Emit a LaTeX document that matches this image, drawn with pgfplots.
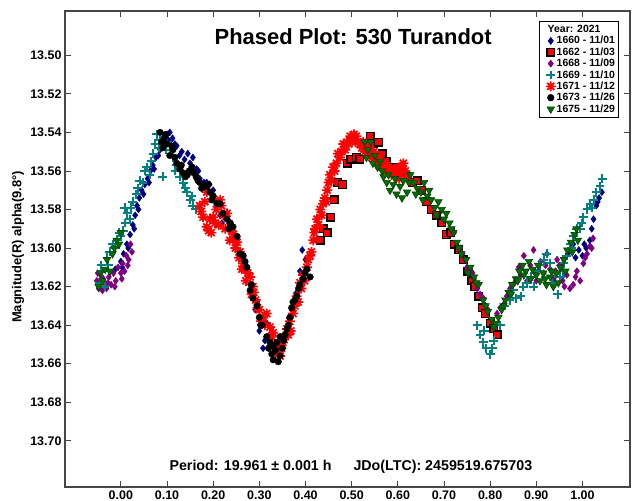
\documentclass[border=0pt]{standalone}
\usepackage{pgfplots}
\pgfplotsset{compat=1.18}
\usepackage{fontspec}
\setmainfont{Liberation Sans}
\definecolor{cnavy}{RGB}{0,0,128}
\definecolor{cpurple}{RGB}{128,0,128}
\definecolor{cteal}{RGB}{0,128,128}
\definecolor{cgreen}{RGB}{0,110,0}
\definecolor{cframe}{RGB}{70,70,70}
\pgfdeclareplotmark{burst}{%
 \pgfpathmoveto{\pgfqpoint{-\pgfplotmarksize}{0pt}}\pgfpathlineto{\pgfqpoint{\pgfplotmarksize}{0pt}}%
 \pgfpathmoveto{\pgfqpoint{0pt}{-\pgfplotmarksize}}\pgfpathlineto{\pgfqpoint{0pt}{\pgfplotmarksize}}%
 \pgfpathmoveto{\pgfqpoint{-0.707\pgfplotmarksize}{-0.707\pgfplotmarksize}}\pgfpathlineto{\pgfqpoint{0.707\pgfplotmarksize}{0.707\pgfplotmarksize}}%
 \pgfpathmoveto{\pgfqpoint{-0.707\pgfplotmarksize}{0.707\pgfplotmarksize}}\pgfpathlineto{\pgfqpoint{0.707\pgfplotmarksize}{-0.707\pgfplotmarksize}}%
 \pgfusepathqstroke}
\begin{document}
\begin{tikzpicture}
\useasboundingbox (0,0) rectangle (634bp,501bp);
\begin{axis}[
  at={(65bp,14bp)}, anchor=south west, scale only axis,
  width=565bp, height=476bp,
  xmin=-0.121, xmax=1.103, ymin=13.477, ymax=13.724, y dir=reverse,
  xtick={0,0.1,0.2,0.3,0.4,0.5,0.6,0.7,0.8,0.9,1.0},
  ytick={13.50,13.52,13.54,13.56,13.58,13.60,13.62,13.64,13.66,13.68,13.70},
  /pgf/number format/assume math mode=true,
  xticklabel style={/pgf/number format/.cd, fixed, fixed zerofill, precision=2},
  yticklabel style={/pgf/number format/.cd, fixed, fixed zerofill, precision=2},
  ticklabel style={font=\bfseries\fontsize{12.5}{14}\selectfont},
  scaled y ticks=false,
  axis line style={cframe, line width=1.2pt},
  major tick length=6bp,
  every tick/.style={cframe, line width=0.8pt},
  xtick pos=both, ytick pos=both,
  legend cell align=left,
  legend style={at={(0.980,0.978)}, anchor=north east, draw=black, line width=0.6pt,
    font=\bfseries\fontsize{10.5}{11}\selectfont, row sep=0.3pt,
    nodes={inner sep=1pt}, inner sep=2.5pt},
  clip=true,
]
\addlegendimage{empty legend}
\addlegendentry{\hspace*{-9bp}Year: 2021}

\addplot[only marks, mark=diamond*, mark size=3.5, color=cnavy] coordinates {
(-0.012,13.611) (0.000,13.607) (0.006,13.603) (0.013,13.598) (0.020,13.593) (0.026,13.588) (0.031,13.583) (0.035,13.578) (0.040,13.574) (0.045,13.570) (0.052,13.567) (0.058,13.564) (0.064,13.560) (0.069,13.557) (0.076,13.553) (0.085,13.549) (0.092,13.545) (0.100,13.541) (0.106,13.540) (0.112,13.543) (0.121,13.547) (0.132,13.550) (0.145,13.551) (0.156,13.553) (0.164,13.559) (0.171,13.564) (0.180,13.566) (0.192,13.567) (0.200,13.570) (0.208,13.576) (0.215,13.583) (0.223,13.582) (0.230,13.585) (0.243,13.595) (0.258,13.603) (0.268,13.610) (0.280,13.619) (0.287,13.623) (0.295,13.628) (0.300,13.643) (0.308,13.652) (0.316,13.639) (0.327,13.647) (0.340,13.655) (0.351,13.649) (0.360,13.643) (0.373,13.631) (0.381,13.623) (0.388,13.612) (0.393,13.601) (0.400,13.606)
(0.003,13.610) (0.016,13.600) (0.029,13.590) (0.038,13.580) (0.049,13.572) (0.061,13.566) (0.072,13.559) (0.081,13.552) (0.096,13.543) (0.103,13.544) (0.117,13.546) (0.127,13.552) (0.138,13.554) (0.150,13.556) (0.168,13.560) (0.186,13.566) (0.196,13.572) (0.219,13.587) (0.237,13.590) (0.250,13.598) (0.262,13.606) (0.274,13.614) (0.291,13.632) (0.312,13.648) (0.333,13.652) (0.346,13.651) (0.366,13.637) (0.377,13.628)
(0.955,13.609) (0.968,13.603) (0.980,13.598) (0.992,13.601) (1.000,13.604) (1.008,13.600) (1.016,13.596) (1.024,13.585) (1.030,13.578) (1.036,13.574) (1.042,13.571) (0.985,13.605) (1.004,13.598) (1.020,13.590) (1.033,13.576)
};
\addlegendentry{1660 - 11/01}

\addplot[only marks, mark=square*, mark size=3.8, mark options={fill=red, draw=black, line width=1.4pt}] coordinates {
(0.432,13.596) (0.438,13.590) (0.447,13.592) (0.455,13.584) (0.462,13.575) (0.470,13.566) (0.480,13.567) (0.490,13.556) (0.498,13.554) (0.510,13.553) (0.518,13.554) (0.530,13.546) (0.540,13.542) (0.548,13.546) (0.558,13.545) (0.566,13.551) (0.575,13.555) (0.585,13.558) (0.597,13.558) (0.608,13.561) (0.620,13.563) (0.632,13.566) (0.642,13.565) (0.652,13.570) (0.662,13.576) (0.672,13.580) (0.683,13.583) (0.695,13.587) (0.705,13.593) (0.715,13.592) (0.722,13.598) (0.732,13.601) (0.742,13.606) (0.752,13.612) (0.760,13.617) (0.767,13.620) (0.775,13.625) (0.783,13.631) (0.790,13.634) (0.800,13.639) (0.808,13.642) (0.815,13.645)
};
\addlegendentry{1662 - 11/03}

\addplot[only marks, mark=diamond*, mark size=3.5, color=cpurple] coordinates {
(-0.052,13.617) (-0.048,13.621) (-0.044,13.614) (-0.040,13.622) (-0.036,13.618) (-0.031,13.621) (-0.026,13.615) (-0.021,13.619) (-0.016,13.613) (-0.011,13.617) (-0.006,13.610) (0.000,13.613) (0.004,13.608) (0.008,13.612) (0.012,13.604) (0.017,13.606) (0.021,13.598) (0.024,13.602)
(-0.050,13.613) (-0.038,13.616) (-0.028,13.618) (-0.013,13.620) (0.002,13.616) (0.015,13.609)
(0.722,13.592) (0.735,13.600) (0.745,13.606) (0.757,13.611) (0.765,13.616) (0.772,13.621) (0.785,13.626) (0.795,13.632) (0.815,13.634) (0.830,13.629) (0.843,13.621) (0.856,13.617) (0.866,13.614) (0.873,13.604) (0.880,13.617) (0.887,13.609) (0.894,13.601) (0.900,13.617) (0.909,13.607) (0.916,13.613) (0.923,13.603) (0.930,13.611) (0.938,13.616) (0.945,13.606) (0.950,13.609) (0.957,13.617) (0.966,13.614) (0.973,13.621) (0.980,13.619) (0.988,13.612) (0.995,13.617) (1.002,13.608) (1.010,13.603) (1.016,13.599) (1.023,13.595)
(0.740,13.603) (0.750,13.610) (0.762,13.613) (0.778,13.624) (0.790,13.630) (0.822,13.631) (0.836,13.625) (0.850,13.619) (0.862,13.610) (0.897,13.612) (0.920,13.609) (0.942,13.612) (0.961,13.620) (0.985,13.615) (1.006,13.605) (1.020,13.600)
};
\addlegendentry{1668 - 11/09}

\addplot[only marks, mark=+, mark size=4.5, color=cteal, line width=2pt] coordinates {
(-0.046,13.618) (-0.040,13.612) (-0.035,13.620) (-0.030,13.605) (-0.024,13.602) (-0.018,13.598) (-0.012,13.600) (-0.008,13.596) (0.000,13.594) (0.005,13.591) (0.010,13.587) (0.014,13.582) (0.019,13.585) (0.026,13.576) (0.033,13.572) (0.041,13.565) (0.048,13.566) (0.056,13.558) (0.063,13.562) (0.070,13.551) (0.075,13.546) (0.078,13.541) (0.085,13.544) (0.091,13.563) (0.097,13.549) (0.106,13.549) (0.114,13.553) (0.121,13.557) (0.128,13.563) (0.135,13.566) (0.143,13.571) (0.150,13.575) (0.156,13.578) (0.162,13.580)
(-0.043,13.609) (-0.027,13.609) (-0.004,13.592) (0.008,13.579) (0.022,13.579) (0.037,13.569) (0.052,13.560) (0.066,13.555) (0.082,13.548) (0.101,13.545) (0.118,13.560) (0.139,13.569) (0.154,13.573)
(0.772,13.640) (0.778,13.645) (0.785,13.649) (0.792,13.652) (0.800,13.655) (0.808,13.648) (0.822,13.640) (0.832,13.630) (0.843,13.627) (0.856,13.626) (0.866,13.625) (0.880,13.618) (0.894,13.620) (0.903,13.612) (0.909,13.609) (0.916,13.606) (0.923,13.603) (0.930,13.608) (0.940,13.613) (0.946,13.624) (0.952,13.615) (0.960,13.608) (0.966,13.604) (0.973,13.598) (0.980,13.594) (0.988,13.590) (0.995,13.590) (1.002,13.584) (1.010,13.580) (1.017,13.577) (1.024,13.575) (1.030,13.571) (1.038,13.568) (1.043,13.564)
(0.787,13.643) (0.805,13.652) (0.850,13.622) (0.872,13.620) (0.888,13.615) (0.935,13.618) (0.958,13.612) (0.977,13.600) (0.998,13.587) (1.020,13.579)
};
\addlegendentry{1669 - 11/10}

\addplot[only marks, mark=burst, mark size=5, color=red, line width=1.7pt] coordinates {
(0.171,13.578) (0.178,13.584) (0.186,13.589) (0.186,13.571) (0.193,13.585) (0.200,13.584) (0.207,13.580) (0.215,13.575) (0.222,13.583) (0.230,13.582) (0.236,13.589) (0.236,13.596) (0.244,13.593) (0.252,13.597) (0.258,13.602) (0.265,13.608) (0.269,13.611) (0.275,13.613) (0.280,13.615) (0.286,13.620) (0.292,13.627) (0.300,13.632) (0.308,13.636) (0.316,13.634) (0.323,13.641) (0.330,13.644) (0.338,13.653) (0.345,13.656) (0.351,13.649) (0.356,13.646) (0.360,13.642) (0.366,13.638) (0.373,13.634) (0.381,13.625) (0.388,13.618) (0.395,13.614) (0.403,13.610) (0.410,13.604) (0.417,13.596) (0.421,13.590) (0.425,13.585) (0.432,13.580) (0.438,13.577) (0.447,13.570) (0.450,13.566) (0.453,13.562) (0.460,13.558) (0.467,13.556) (0.475,13.553) (0.482,13.546) (0.490,13.545) (0.497,13.542) (0.505,13.541) (0.510,13.542) (0.518,13.546) (0.525,13.545) (0.533,13.548) (0.540,13.549) (0.548,13.550) (0.555,13.552) (0.562,13.554) (0.569,13.556) (0.576,13.557) (0.583,13.559) (0.590,13.560) (0.600,13.561) (0.606,13.558) (0.612,13.556) (0.620,13.563)
(0.428,13.588) (0.442,13.574) (0.456,13.565) (0.470,13.551) (0.486,13.549) (0.500,13.544) (0.514,13.545) (0.529,13.550) (0.544,13.553) (0.560,13.557) (0.575,13.560)
(0.196,13.592) (0.212,13.588) (0.226,13.590) (0.248,13.600) (0.262,13.611) (0.283,13.624) (0.304,13.638) (0.334,13.650) (0.348,13.652) (0.368,13.643) (0.384,13.628) (0.398,13.617) (0.413,13.602)
(0.174,13.581) (0.182,13.576) (0.190,13.591) (0.204,13.587) (0.218,13.578) (0.240,13.591) (0.256,13.605) (0.271,13.617) (0.288,13.623) (0.296,13.631) (0.312,13.640) (0.326,13.646) (0.342,13.655) (0.363,13.645) (0.377,13.630) (0.391,13.621) (0.406,13.606) (0.419,13.592) (0.435,13.583) (0.445,13.576) (0.463,13.560) (0.478,13.550) (0.494,13.546) (0.508,13.545) (0.522,13.548) (0.537,13.551) (0.552,13.555) (0.566,13.558) (0.586,13.562) (0.603,13.564) (0.616,13.560)
};
\addlegendentry{1671 - 11/12}

\addplot[only marks, mark=*, mark size=3.3, color=black] coordinates {
(0.085,13.540) (0.088,13.545) (0.094,13.543) (0.100,13.546) (0.106,13.552) (0.113,13.549) (0.121,13.556) (0.128,13.559) (0.135,13.561) (0.140,13.563) (0.148,13.560) (0.154,13.558) (0.163,13.563) (0.171,13.566) (0.180,13.568) (0.186,13.568) (0.193,13.571) (0.200,13.573) (0.208,13.577) (0.215,13.577) (0.221,13.582) (0.230,13.585) (0.237,13.587) (0.243,13.589) (0.252,13.594) (0.258,13.603) (0.265,13.604) (0.273,13.610) (0.280,13.622) (0.286,13.626) (0.295,13.630) (0.300,13.636) (0.306,13.640) (0.316,13.646) (0.323,13.649) (0.330,13.651) (0.330,13.658) (0.338,13.649) (0.345,13.656) (0.345,13.646) (0.353,13.648) (0.360,13.642) (0.366,13.636) (0.373,13.628) (0.381,13.625) (0.388,13.619) (0.395,13.616) (0.403,13.611) (0.410,13.615)
(0.091,13.548) (0.097,13.541) (0.110,13.547) (0.117,13.553) (0.131,13.557) (0.144,13.562) (0.158,13.561) (0.167,13.565) (0.175,13.569) (0.190,13.567) (0.197,13.575) (0.234,13.590) (0.269,13.607) (0.283,13.619) (0.303,13.640) (0.320,13.652) (0.327,13.655) (0.335,13.653) (0.341,13.659) (0.350,13.652) (0.356,13.645) (0.363,13.640) (0.370,13.631) (0.377,13.627) (0.385,13.621) (0.399,13.613)
};
\addlegendentry{1673 - 11/26}

\addplot[only marks, mark=triangle*, mark size=4.3, mark options={rotate=180, fill=cgreen, draw=cgreen!60!black, line width=0.6pt}] coordinates {
(-0.048,13.620) (-0.044,13.613) (-0.040,13.617) (-0.034,13.611) (-0.030,13.606) (-0.024,13.612) (-0.018,13.603) (-0.014,13.600) (-0.009,13.596) (-0.004,13.598) (0.000,13.592)
(0.528,13.545) (0.535,13.549) (0.542,13.545) (0.550,13.552) (0.556,13.558) (0.562,13.555) (0.569,13.563) (0.576,13.566) (0.583,13.570) (0.590,13.567) (0.597,13.572) (0.605,13.568) (0.612,13.565) (0.620,13.571) (0.627,13.562) (0.635,13.566) (0.642,13.569) (0.650,13.571) (0.657,13.566) (0.664,13.573) (0.672,13.575) (0.680,13.579) (0.688,13.576) (0.695,13.580) (0.705,13.582) (0.712,13.587) (0.720,13.592) (0.728,13.597) (0.738,13.603) (0.748,13.606) (0.757,13.610) (0.765,13.615) (0.775,13.619) (0.785,13.627) (0.795,13.633) (0.803,13.637) (0.812,13.639) (0.818,13.636) (0.825,13.632) (0.833,13.627) (0.840,13.623) (0.848,13.619) (0.856,13.616) (0.863,13.612) (0.870,13.609) (0.877,13.612) (0.884,13.607) (0.892,13.611) (0.900,13.614) (0.908,13.617) (0.915,13.613) (0.922,13.619) (0.930,13.615) (0.937,13.620) (0.944,13.613) (0.952,13.610) (0.960,13.606) (0.967,13.601) (0.975,13.597) (0.983,13.593) (0.990,13.596)
(0.532,13.553) (0.546,13.556) (0.566,13.560) (0.580,13.562) (0.594,13.564) (0.609,13.574) (0.624,13.566) (0.639,13.572) (0.654,13.575) (0.668,13.570) (0.684,13.583) (0.700,13.585) (0.716,13.590) (0.733,13.600) (0.752,13.613) (0.770,13.618) (0.790,13.630) (0.808,13.641) (0.829,13.630) (0.845,13.624) (0.860,13.617) (0.873,13.614) (0.888,13.616) (0.904,13.609) (0.919,13.616) (0.933,13.612) (0.948,13.618) (0.963,13.612) (0.978,13.602) (0.987,13.590)
};
\addlegendentry{1675 - 11/29}

\node[font=\bfseries\fontsize{22}{25}\selectfont] at (axis description cs:0.51,0.947) {Phased Plot: 530 Turandot};
\node[font=\bfseries\fontsize{14.3}{16}\selectfont] at (axis description cs:0.506,0.042) {Period: 19.961 ± 0.001 h\hspace{22bp}JDo(LTC): 2459519.675703};
\end{axis}
\node[rotate=90, font=\bfseries\fontsize{13}{15}\selectfont] at (18bp,254bp) {Magnitude(R) alpha(9.8°)};
\end{tikzpicture}
\end{document}
